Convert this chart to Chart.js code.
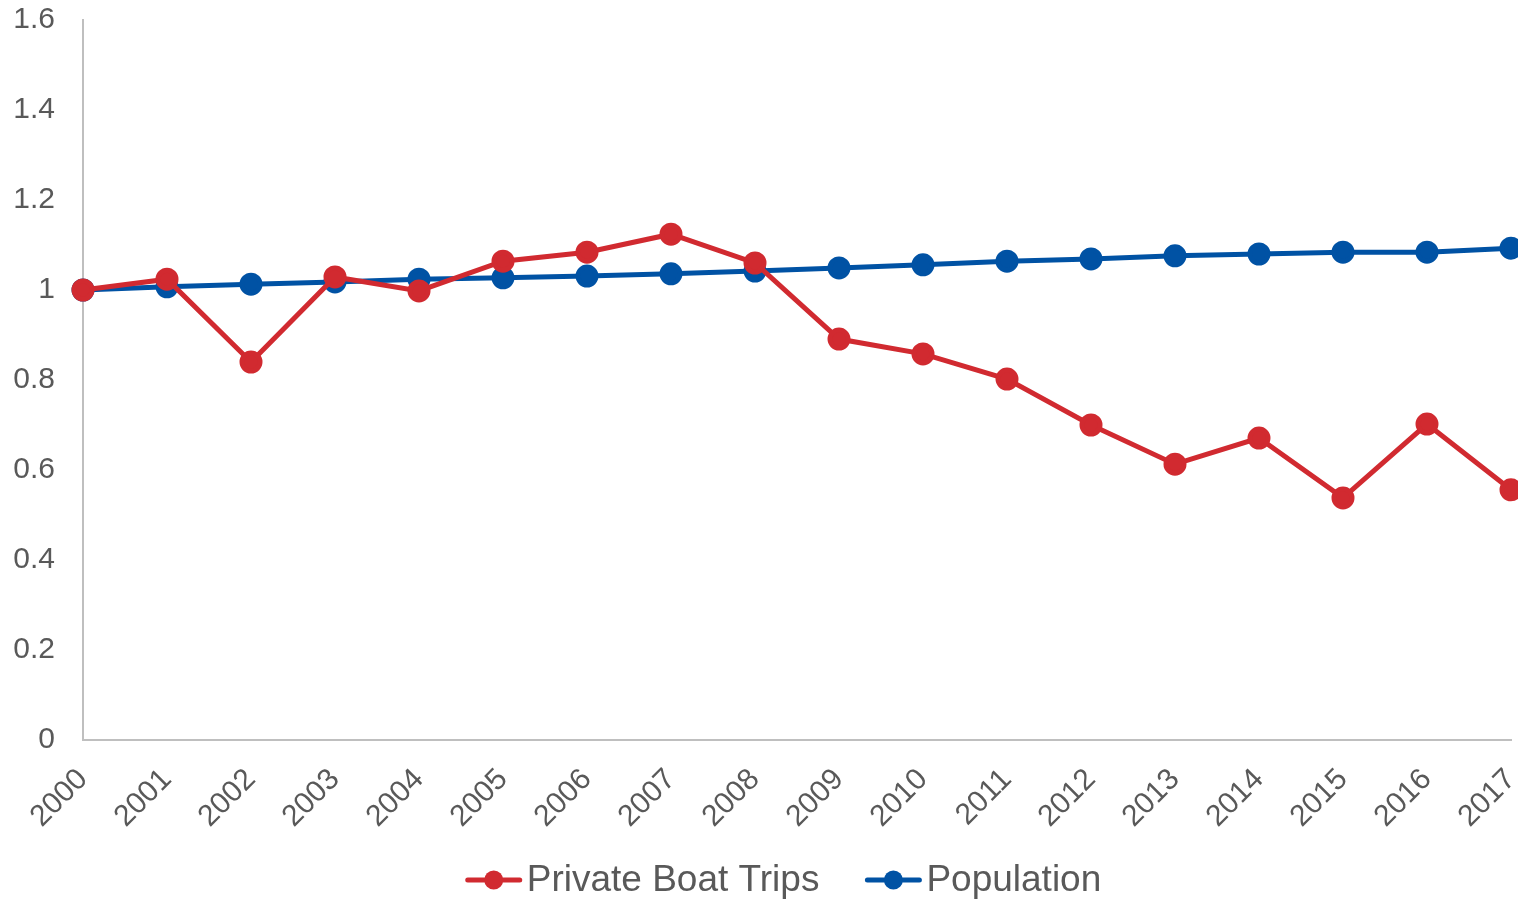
<!DOCTYPE html>
<html>
<head>
<meta charset="utf-8">
<script src="https://cdn.jsdelivr.net/npm/chart.js@4"></script>
<style>
  body { margin: 0; background: #fff; }
  #wrap { width: 1518px; height: 900px; }
</style>
</head>
<body>
<div id="wrap"><canvas id="boatChart" width="1518" height="900"></canvas></div>
<script>
let years = ["2000", "2001", "2002", "2003", "2004", "2005", "2006", "2007", "2008",
  "2009", "2010", "2011", "2012", "2013", "2014", "2015", "2016", "2017"];

let boatTrips = [1.0, 1.024, 0.84, 1.029, 0.998, 1.064, 1.084, 1.124, 1.06,
  0.891, 0.858, 0.802, 0.70, 0.613, 0.671, 0.538, 0.702, 0.556];

let population = [1.0, 1.007, 1.013, 1.018, 1.024, 1.027, 1.031, 1.036, 1.042,
  1.049, 1.056, 1.064, 1.069, 1.076, 1.080, 1.084, 1.084, 1.093];

let seriesNames = ["Private Boat Trips", "Population"];
let seriesColors = ["#d12a30", "#0052a4"];

let textColor = "#595959";
let axisColor = "#bfbfbf";
let fontFamily = "'Liberation Sans', Arial, sans-serif";

// legend drawn by hand: line with a dot, then the label
let lineDotLegend = {
  id: "lineDotLegend",
  afterDraw: (chart) => {
    let ctx = chart.ctx;
    let y = 880;
    let symW = 56, gap = 5, spacing = 46;
    ctx.save();
    ctx.font = "37px " + fontFamily;
    ctx.textBaseline = "middle";
    let items = chart.data.datasets.map((ds) => ({
      text: ds.label,
      color: ds.borderColor,
      w: symW + gap + ctx.measureText(ds.label).width,
    }));
    let total = items.reduce((s, it) => s + it.w, 0) + spacing * (items.length - 1);
    let x = 783.5 - total / 2;
    items.forEach((it) => {
      ctx.strokeStyle = it.color;
      ctx.lineWidth = 5;
      ctx.lineCap = "round";
      ctx.beginPath();
      ctx.moveTo(x + 2, y);
      ctx.lineTo(x + symW - 2, y);
      ctx.stroke();
      ctx.fillStyle = it.color;
      ctx.beginPath();
      ctx.arc(x + symW / 2, y, 9.5, 0, Math.PI * 2);
      ctx.fill();
      ctx.fillStyle = textColor;
      ctx.fillText(it.text, x + symW + gap, y + 1);
      x += it.w + spacing;
    });
    ctx.restore();
  },
};

new Chart(document.getElementById("boatChart"), {
  type: "line",
  data: {
    labels: years,
    datasets: [
      {
        label: seriesNames[0],
        data: boatTrips,
        borderColor: seriesColors[0],
        backgroundColor: seriesColors[0],
        borderWidth: 5,
        pointRadius: 9,
        pointHoverRadius: 9,
        tension: 0,
        clip: false,
      },
      {
        label: seriesNames[1],
        data: population,
        borderColor: seriesColors[1],
        backgroundColor: seriesColors[1],
        borderWidth: 5,
        pointRadius: 9,
        pointHoverRadius: 9,
        tension: 0,
        clip: false,
      },
    ],
  },
  options: {
    responsive: false,
    animation: false,
    layout: { autoPadding: false, padding: { top: 20, right: 7, left: 0, bottom: 0 } },
    plugins: {
      legend: { display: false },
      tooltip: { enabled: false },
    },
    scales: {
      x: {
        grid: { display: false, drawTicks: false },
        border: { display: true, color: axisColor, width: 2 },
        ticks: {
          color: textColor,
          font: { size: 30, family: fontFamily },
          maxRotation: 45,
          minRotation: 45,
          autoSkip: false,
          padding: 22,
        },
        afterFit: (s) => {
          s.height = 160;
          s.paddingLeft = 0;
          s.paddingRight = 0;
        },
      },
      y: {
        min: 0,
        max: 1.6,
        grid: { display: false, drawTicks: false },
        border: { display: true, color: axisColor, width: 2 },
        ticks: {
          stepSize: 0.2,
          color: textColor,
          font: { size: 30, family: fontFamily },
          padding: 28,
          callback: (v) => String(parseFloat(v.toFixed(1))),
        },
        afterFit: (s) => {
          s.width = 83;
          s.paddingTop = 0;
          s.paddingBottom = 0;
        },
      },
    },
  },
  plugins: [lineDotLegend],
});
</script>
</body>
</html>
